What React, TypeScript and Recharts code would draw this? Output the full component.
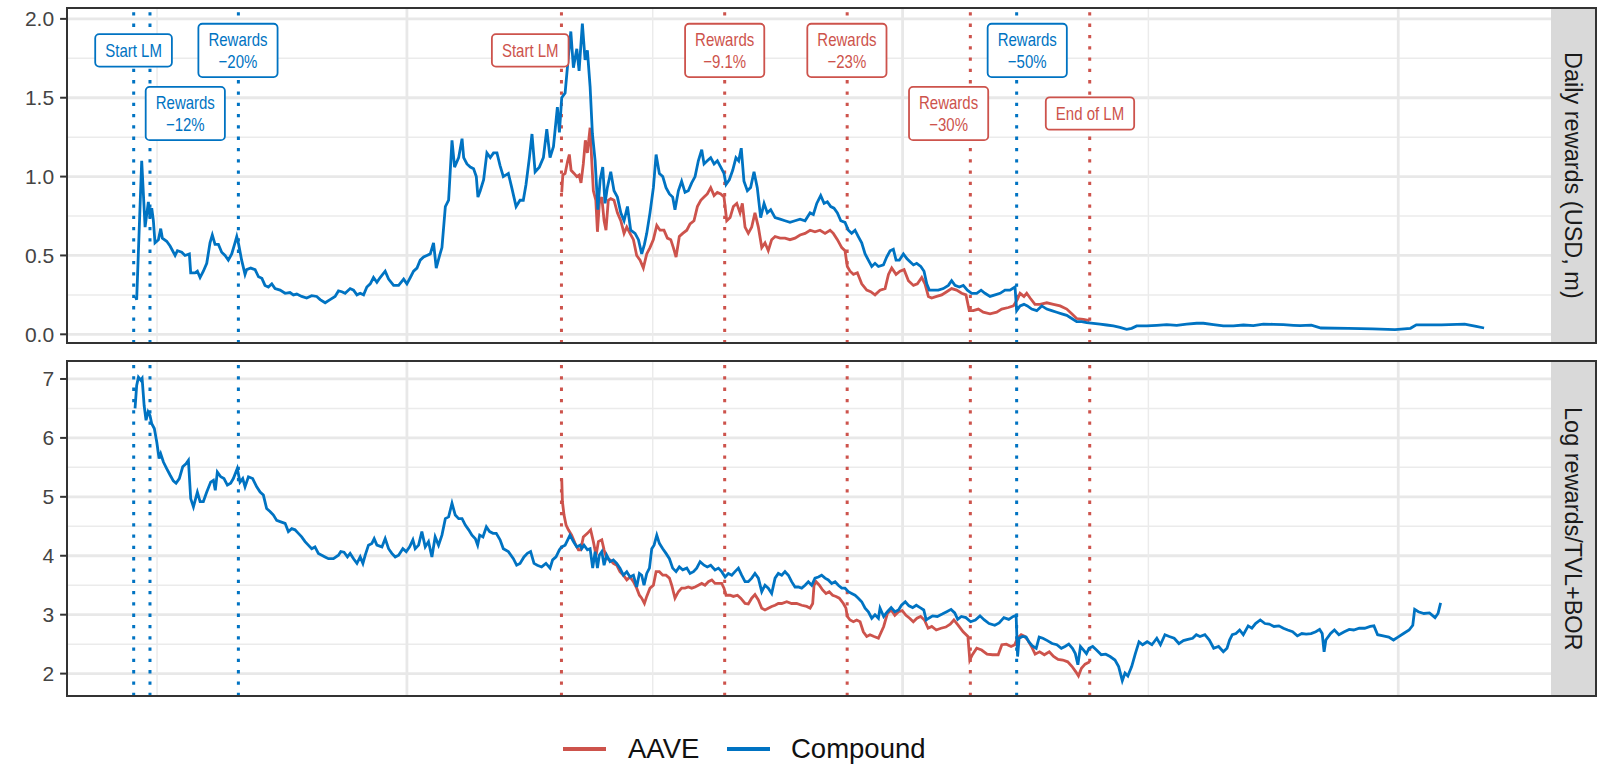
import React from "react"
import { LineChart, Line, XAxis, YAxis, ReferenceLine, ReferenceDot } from "recharts"

const AAVE = "#CD534C"
const COMP = "#0073C2"
const FONT = '"Liberation Sans", Arial, Helvetica, sans-serif'

// x is days since 1 Jul 2020
const xDomain: [number, number] = [-66.6, 1027]
const majorDays = [184, 549, 914] // 1 Jan
const minorDays = [0, 365, 730] // 1 Jul

const dailyTicks = [0, 0.5, 1, 1.5, 2]
const dailyMinor = [0.25, 0.75, 1.25, 1.75]
const logTicks = [2, 3, 4, 5, 6, 7]
const logMinor = [2.5, 3.5, 4.5, 5.5, 6.5]

const compoundEvents = [-17.2, -5.2, 59.9, 633]
const aaveEvents = [297.8, 418, 508.2, 598.9, 686.8]

const compoundLabels = [
  { day: -17.3, v: 1.8, text: ["Start LM"] },
  { day: 20.8, v: 1.4, text: ["Rewards", "\u221212%"] },
  { day: 59.6, v: 1.8, text: ["Rewards", "\u221220%"] },
  { day: 640.8, v: 1.8, text: ["Rewards", "\u221250%"] },
]
const aaveLabels = [
  { day: 274.8, v: 1.8, text: ["Start LM"] },
  { day: 418, v: 1.8, text: ["Rewards", "\u22129.1%"] },
  { day: 508, v: 1.8, text: ["Rewards", "\u221223%"] },
  { day: 582.9, v: 1.4, text: ["Rewards", "\u221230%"] },
  { day: 687, v: 1.4, text: ["End of LM"] },
]

const compoundDaily: [number, number][] = [
  [-16,0.24],[-15,0.22],[-11.3,1.10],[-8.8,0.68],[-6.4,0.84],[-5.2,0.74],[-3.9,0.80],[-2.7,0.72],[-1.5,0.58],[1,0.60],
  [2.7,0.67],[3.9,0.61],[7.1,0.59],[9.6,0.56],[13.3,0.50],[15,0.53],[18.2,0.52],[20.6,0.50],[23.8,0.51],[24.8,0.39],
  [28,0.39],[29.7,0.40],[31.7,0.36],[34.1,0.40],[36.6,0.45],[39,0.58],[40.7,0.63],[42.7,0.57],[45.2,0.57],[47.6,0.52],
  [50.1,0.50],[52.5,0.47],[55,0.51],[57.4,0.58],[58.7,0.62],[60.1,0.57],[62.3,0.47],[64.8,0.38],[66,0.41],[69,0.42],
  [72.2,0.41],[74.7,0.365],[77.2,0.355],[79.5,0.31],[82,0.30],[84.5,0.32],[86.9,0.29],[90.6,0.28],[94.3,0.26],[97.9,0.265],
  [100.4,0.25],[102.9,0.255],[106.5,0.24],[110.2,0.23],[113.9,0.245],[117.6,0.24],[120.1,0.22],[123.8,0.20],[127.4,0.22],[131.1,0.24],
  [133.6,0.275],[136.1,0.27],[138.5,0.26],[142.2,0.29],[144.7,0.28],[147.2,0.25],[149.6,0.26],[152.1,0.25],[154.5,0.30],[157,0.32],
  [159.4,0.36],[161.9,0.33],[164.3,0.36],[168,0.40],[170.5,0.35],[174.2,0.31],[177.9,0.31],[181.6,0.35],[184,0.32],[186.5,0.36],
  [188.9,0.40],[191.4,0.42],[193.8,0.47],[196.3,0.49],[198.7,0.50],[201.2,0.51],[203.6,0.58],[205.6,0.42],[208.1,0.50],[209.8,0.55],
  [212.3,0.81],[214.7,0.85],[217.2,1.23],[219.1,1.06],[222.1,1.12],[224.6,1.24],[225.8,1.12],[228.2,1.08],[230.7,1.06],[233.1,1.05],
  [235.1,1.00],[236.3,0.87],[238,0.91],[240.5,0.98],[242.9,1.15],[245.4,1.12],[247.8,1.15],[250.3,1.15],
  [252.6,1.07],[255,1.00],[258.7,1.02],[261.2,0.93],[264.4,0.81],[267.3,0.85],[269.7,0.85],[271.7,0.95],[274.2,1.12],[276.1,1.27],
  [278.4,1.03],[281.5,1.06],[284.5,1.12],[287,1.30],[289.4,1.12],[291.9,1.19],[294.8,1.44],[296.3,1.28],[298,1.50],[300.5,1.53],
  [302.9,1.76],[304.7,1.92],[306.6,1.69],[309.1,1.81],[310.8,1.67],[313.2,1.97],[315.2,1.74],[316.9,1.80],[318.9,1.57],[320.6,1.27],
  [322.6,1.10],[324.6,0.79],[326.3,0.98],[328.2,1.06],[329.9,0.83],[331.6,0.93],[334.1,1.03],[336.5,0.91],[339,0.87],[341.5,0.77],
  [343.9,0.72],[346.4,0.81],[348.8,0.66],[352,0.64],[354.5,0.60],[356.9,0.51],[358.9,0.57],[360.6,0.64],[363,0.77],[365.5,0.93],
  [367.5,1.14],[369.9,1.02],[372.4,1.00],[374.8,0.93],[377.3,0.89],[379.7,0.87],[381.4,0.79],[383.9,0.91],[386.3,0.97],[388.8,0.90],
  [391.2,0.91],[393.7,0.96],[396.2,1.00],[398.6,1.10],[401.1,1.17],[402.8,1.08],[405.2,1.10],[407.7,1.12],[410.2,1.08],[412.6,1.10],
  [415.1,1.06],[417.5,1.02],[419,0.95],[421.4,0.98],[423.9,1.04],[426.3,1.12],[428.3,1.10],[430.2,1.18],[432.2,0.97],[434.7,0.91],
  [437.1,0.93],[439.6,1.03],[442,0.93],[444.5,0.74],[447,0.83],[449.4,0.77],[451.9,0.79],[455.1,0.74],[458.8,0.73],[462.4,0.72],
  [466.1,0.71],[469.8,0.72],[473.5,0.73],[477.2,0.72],[480.9,0.77],[483.3,0.76],[485.8,0.83],[488.7,0.88],[491.2,0.83],[493.6,0.84],
  [496.1,0.81],[498.5,0.80],[501,0.77],[503.5,0.72],[506.6,0.71],[509.1,0.66],[511.5,0.64],[514,0.66],[516.4,0.62],[518.9,0.58],
  [521.4,0.51],[523.8,0.47],[526.3,0.43],[528.7,0.45],[531.2,0.43],
  [534.9,0.44],[537.3,0.49],[539.8,0.53],[542.2,0.54],[544.2,0.47],[546.6,0.47],[549.6,0.51],[552.1,0.48],[554.5,0.46],[557,0.44],
  [559.4,0.45],[562.4,0.43],[564.8,0.40],[566.8,0.32],[568.7,0.28],[571.7,0.28],[575.3,0.28],[579,0.29],[582.7,0.31],[585.1,0.34],
  [587.6,0.31],[590.8,0.30],[593.7,0.31],[596.7,0.28],[599.9,0.26],[603.6,0.26],[606.8,0.28],[609.7,0.26],[613.4,0.24],[617.1,0.25],
  [620.8,0.26],[624.4,0.28],[628.1,0.28],[631.8,0.30],[633,0.15],[635.5,0.18],[638.4,0.19],[640.9,0.18],[644.1,0.16],[647.8,0.15],
  [651.5,0.18],[655.2,0.16],[658.8,0.15],[662.5,0.14],[666.2,0.13],[669.9,0.12],[673.6,0.10],[677.2,0.08],[680.9,0.08],[684.6,0.074],
  [689.5,0.07],[694.4,0.065],[699.3,0.059],[704.2,0.053],[709.1,0.044],[714,0.032],[717.7,0.038],[721.4,0.053],[728.8,0.053],[736.1,0.057],
  [743.5,0.061],[750.9,0.057],[758.2,0.065],[765.6,0.07],[770.5,0.07],[777.9,0.061],[785.2,0.053],[792.6,0.053],[800,0.059],[807.3,0.055],
  [814.7,0.065],[822,0.063],[829.4,0.061],[836.8,0.057],[841.7,0.055],[850,0.058],[857.1,0.040],[877.3,0.038],[895,0.035],[911.6,0.030],
  [923,0.038],[927.3,0.06],[945.8,0.06],[962.9,0.065],[971.4,0.05],[977.2,0.04],
]

const aaveDaily: [number, number][] = [
  [298,0.90],[298.8,1.01],[300.5,1.02],[302.4,1.10],[303.6,1.14],[304.9,1.04],[307.1,1.02],[309.1,1.00],[310.8,1.01],[312.2,0.96],
  [313.9,1.08],[315.4,1.23],[316.9,1.15],[318.9,1.31],[320.1,1.10],[321.3,0.91],[323.1,0.85],[324.3,0.65],[325.7,0.83],[327.5,0.87],
  [329.2,0.72],[330.6,0.66],[332.3,0.85],[334.1,0.86],[336.5,0.85],[339,0.77],[341.5,0.72],[343.9,0.64],[345.9,0.68],[348.3,0.64],
  [350.8,0.60],[353.2,0.50],[355.7,0.47],[358.1,0.42],[360.6,0.51],[363,0.55],[365.5,0.60],[368,0.69],[370.4,0.66],[373.3,0.66],
  [375.8,0.61],[378.3,0.60],[380.2,0.55],[382.2,0.49],[384.6,0.62],[387.1,0.64],[390.1,0.66],[392.5,0.70],[395.4,0.72],[397.9,0.81],
  [400.4,0.85],[402.8,0.87],[405.2,0.89],[407.7,0.93],[410.2,0.88],[412.6,0.90],[415.1,0.89],[417.5,0.87],[419.5,0.72],[422,0.74],
  [424.4,0.81],[426.9,0.83],[429.3,0.77],[431,0.83],[433,0.68],[435.4,0.64],[437.9,0.68],[440.3,0.77],[442.8,0.68],[445.3,0.55],
  [447.7,0.58],[450.1,0.53],[452.6,0.60],[455.1,0.62],[458.8,0.61],[462.4,0.61],[466.1,0.60],[469.8,0.61],[473.5,0.63],[477.2,0.64],
  [480.9,0.66],[484.5,0.65],[488.2,0.66],[491.9,0.64],[495.6,0.66],[498,0.64],[501,0.60],[504.2,0.55],[506.6,0.53],[508.3,0.43],
  [510.3,0.40],[512.8,0.38],[515.7,0.39],[518.9,0.32],[522.6,0.28],[525.5,0.27],[528.7,0.25],[532.4,0.28],[536.1,0.29],[538.6,0.38],
  [541,0.42],[544.2,0.38],[547.1,0.40],[550.1,0.41],[553.3,0.34],[557,0.31],[559.9,0.32],[563.1,0.36],[565.5,0.32],[568,0.24],
  [570.4,0.23],[574.1,0.24],[577.8,0.25],[581.5,0.27],[585.1,0.29],[588.8,0.28],[592.5,0.26],[595.7,0.25],[598.1,0.15],[601.1,0.15],
  [604.8,0.16],[608.4,0.14],[613.4,0.13],[618.3,0.14],[622,0.16],[626.9,0.17],[630.6,0.18],[633.5,0.22],[635.5,0.26],[638.4,0.24],
  [640.4,0.26],[642.9,0.23],[646.5,0.19],[650.2,0.19],[655.2,0.20],[660.1,0.19],[665,0.18],[669.9,0.16],[673.6,0.13],[677.2,0.10],
  [682.2,0.095],[686.6,0.087],
]

const compoundLog: [number, number][] = [
  [-16.2,6.50],[-15,6.89],[-13.7,7.03],[-12,6.98],[-11,7.01],[-9.5,6.55],[-8.1,6.30],[-6.6,6.44],[-5.2,6.38],[-3.9,6.24],
  [-2,6.16],[-0.2,5.93],[1.5,5.65],[2.7,5.73],[4.7,5.59],[7.1,5.48],[9.6,5.37],[12,5.27],[14,5.23],[16.4,5.31],
  [18.9,5.51],[21.3,5.56],[23.1,5.62],[24.8,4.97],[26.8,4.83],[29.7,5.08],[31.7,4.92],[34.1,4.92],[36.6,5.08],[39.5,5.25],
  [41.5,5.28],[42.9,5.11],[44.4,5.42],[46.9,5.34],[49.3,5.31],[51.8,5.20],[54.2,5.23],[56.2,5.31],[59.1,5.48],[61.1,5.25],
  [63.1,5.31],[64.8,5.17],[67.3,5.34],[70.4,5.31],[73.4,5.17],[75.9,5.08],[78.3,5.03],[80.7,4.80],[83.2,4.75],[85.7,4.69],
  [88.1,4.60],[90.6,4.58],[94.3,4.55],[96.7,4.41],[99.2,4.46],[101.6,4.44],[104.1,4.38],[106.5,4.32],[109,4.24],[111.4,4.18],
  [113.9,4.12],[116.3,4.15],[118.8,4.04],[121.3,4.01],[123.7,3.98],[126.2,3.95],[129.9,3.95],[133.6,4.01],[135.3,4.07],[137.7,4.06],
  [140.2,3.98],[142.2,4.04],[144.7,3.95],[147.2,3.87],[149.6,3.98],[151.6,3.87],[153.3,4.01],[155.7,4.18],[158.2,4.21],[159.9,4.29],
  [161.9,4.18],[165.6,4.15],[168,4.29],[170.5,4.12],[172.9,4.04],[175.4,3.98],[177.9,4.01],[181,4.12],[183.5,4.07],[186,4.15],
  [188.4,4.27],[190.1,4.12],[192.6,4.18],[195,4.41],[197.5,4.15],[199.9,4.24],[202.4,3.98],[204.8,4.32],[207.3,4.18],[209.8,4.35],
  [212.3,4.63],[214.7,4.66],[217.2,4.89],[219.6,4.69],[222.1,4.63],[224.6,4.63],[227,4.52],[229.5,4.44],[231.9,4.35],[234.4,4.29],
  [236.1,4.18],[237.6,4.35],[240,4.32],[242.5,4.49],[244.9,4.41],[247.4,4.38],[249.8,4.38],
  [252.6,4.27],[255,4.12],[258.7,4.07],[262.4,3.95],[264.8,3.84],[267.3,3.87],[270.2,3.98],[272.7,4.04],[275.1,4.07],[277.6,3.87],
  [280,3.84],[283.2,3.81],[286.4,3.87],[289.4,3.79],[291.3,3.93],[293.8,3.98],[296.3,4.10],[298,4.15],[300.5,4.18],[304.1,4.35],
  [306.6,4.24],[309.1,4.15],[311.5,4.18],[312.7,4.12],[314.4,4.18],[316.9,4.10],[318.9,4.12],[320.8,3.79],[322.6,4.07],[324.3,3.79],
  [325.7,4.01],[327.5,4.07],[329.2,3.84],[331.1,4.01],[333.6,3.90],[336,3.93],[338.5,3.87],[340.9,3.79],[343.4,3.67],[345.9,3.73],
  [348.3,3.64],[350.8,3.67],[353.2,3.47],[355.2,3.70],[356.9,3.67],[358.6,3.50],[360.6,3.70],[362.6,3.79],[364.3,4.12],[366,4.18],
  [368,4.35],[369.9,4.21],[372.4,4.12],[374.8,4.04],[377.3,3.95],[379.7,3.79],[382.2,3.73],[384.6,3.81],[387.1,3.76],[390.1,3.79],
  [392.5,3.70],[395,3.73],[397.4,3.79],[399.9,3.90],[402.8,3.84],[405.2,3.81],[407.7,3.84],[410.9,3.76],[413.4,3.79],[415.8,3.73],
  [418.3,3.64],[420.7,3.70],[423.2,3.67],[425.6,3.73],[428.1,3.79],[430.5,3.67],[433,3.56],[435.4,3.56],[437.9,3.62],[440.3,3.70],
  [442.8,3.62],[445.3,3.39],[447.7,3.50],[450.1,3.45],[452.6,3.36],[455.1,3.62],[457.5,3.70],[460,3.67],[462.4,3.73],[464.9,3.67],
  [467.3,3.56],[469.8,3.47],[472.2,3.47],[474.7,3.45],[477.2,3.50],[479.6,3.56],[482.1,3.50],[484.5,3.62],[487,3.64],[489.4,3.67],
  [491.9,3.62],[494.3,3.59],[496.8,3.53],[499.3,3.56],[501.7,3.50],[504.2,3.45],[506.6,3.45],[509.1,3.39],[511.5,3.36],[514,3.33],
  [516.4,3.28],[518.9,3.22],[521.4,3.11],[523.8,3.05],[526.3,2.94],[528.7,3.00],[531.2,2.94],
  [532.4,3.11],[535.1,2.97],[537.8,3.05],[540.6,3.12],[543.3,3.05],[546,3.08],[548.2,3.16],[551,3.22],[553.7,3.15],[556.4,3.12],
  [559.1,3.16],[561.9,3.12],[564.6,3.08],[566.4,2.91],[568.3,2.94],[571.1,2.98],[574.6,2.97],[578.2,3.01],[581.5,3.05],[584.7,3.09],
  [587.4,3.03],[589.6,2.92],[592.3,2.97],[595.6,2.95],[599.1,2.88],[602.6,2.91],[606,2.98],[609.2,2.91],[612.7,2.85],[616.9,2.82],
  [620.1,2.86],[623.6,2.95],[627.2,2.92],[630.5,2.97],[632.6,2.99],[633.7,2.29],[634.8,2.60],[637.3,2.63],[640,2.62],[641.9,2.54],
  [644.6,2.47],[647.4,2.43],[649.6,2.62],[652.3,2.60],[655.6,2.56],[659.1,2.51],[662.6,2.49],[665.9,2.43],[668.6,2.46],[671.4,2.50],
  [674.1,2.43],[676.2,2.34],[678.1,2.15],[680,2.46],[682.3,2.40],[684.4,2.34],[686.3,2.43],[689,2.46],[691.8,2.40],[695.3,2.32],
  [698.6,2.33],[701.8,2.29],[705.4,2.23],[708.1,2.12],[710.8,1.88],[712.8,2.01],[714.9,1.96],[717.7,2.12],[720.4,2.34],[723.1,2.54],
  [725.8,2.49],[729.1,2.54],[732.6,2.49],[736.2,2.60],[738.9,2.49],[742.2,2.66],[745.4,2.63],[749,2.60],[752.5,2.51],[755.8,2.56],
  [759.1,2.58],[762.6,2.60],[765.3,2.66],[768,2.63],[771.6,2.66],[774.9,2.57],[778.1,2.43],[781.7,2.46],[785.2,2.37],[787.9,2.43],
  [789.8,2.57],[791.8,2.66],[794.5,2.68],[797.2,2.74],[799.9,2.66],[803.5,2.81],[806.2,2.77],[808.9,2.85],[812.4,2.91],[815.8,2.85],
  [819,2.84],[822.5,2.80],[826.1,2.81],[829.4,2.77],[832.6,2.74],[836.2,2.71],[839.7,2.64],[843,2.68],[846.2,2.67],[849.8,2.68],
  [853.3,2.71],[856.1,2.75],[858,2.68],[859.4,2.37],[860.7,2.57],[864.2,2.68],[867,2.74],[870.3,2.66],[874.3,2.71],[877.9,2.75],
  [881.2,2.74],[885.3,2.77],[889.3,2.77],[893.4,2.80],[896.1,2.81],[898.8,2.66],[902.9,2.64],[907,2.62],[910.5,2.57],[913.8,2.62],
  [917.9,2.68],[922,2.74],[924.7,2.82],[926.1,3.09],[928.8,3.05],[932.9,3.02],[937,3.03],[941.1,2.95],[943.3,3.02],[945.2,3.20],
]

const aaveLog: [number, number][] = [
  [298,5.31],[298.5,4.92],[299.7,4.69],[301.2,4.52],[302.9,4.44],[305.3,4.35],[307.8,4.21],[310.3,4.10],[312,4.10],[313.9,4.32],
  [316.9,4.38],[319.3,4.44],[321.3,4.24],[323.3,4.01],[325,4.24],[327.5,4.27],[329.2,4.10],[331.1,3.95],[333.6,3.93],[336,3.87],
  [338.5,3.84],[340.9,3.73],[343.4,3.67],[345.9,3.59],[348.3,3.64],[350.8,3.56],[353.2,3.45],[355.2,3.33],[356.9,3.28],[358.9,3.19],
  [360.6,3.31],[363,3.45],[365.5,3.50],[367.5,3.73],[369.9,3.73],[372.4,3.67],[374.8,3.67],[377.3,3.62],[379,3.50],[381.4,3.28],
  [383.9,3.39],[386.3,3.45],[388.8,3.45],[391.2,3.47],[393.7,3.45],[396.2,3.47],[398.6,3.50],[401.1,3.53],[403.5,3.50],[406,3.56],
  [408.5,3.59],[410.9,3.53],[413.4,3.53],[415.8,3.53],[417.5,3.45],[419,3.33],[422,3.33],[424.4,3.31],[427.4,3.33],[429.8,3.28],
  [433,3.19],[435.4,3.18],[437.9,3.28],[440.3,3.34],[442.8,3.25],[445.3,3.11],[447.7,3.08],[450.1,3.11],[452.6,3.14],[455.1,3.16],
  [457.5,3.19],[460,3.19],[463.7,3.22],[467.3,3.19],[471,3.19],[474.7,3.16],[478.4,3.14],[480.9,3.11],[482.8,3.19],[483.8,3.50],
  [485.3,3.56],[487.7,3.50],[490.1,3.42],[492.6,3.36],[495,3.39],[497.5,3.33],[500,3.31],[502.4,3.28],[505.4,3.19],[507.3,3.11],
  [508.3,2.97],[510.3,2.91],[512.8,2.88],[515.2,2.91],[517.7,2.88],[520.1,2.71],[522.6,2.63],[525,2.66],[528,2.63],[531.2,2.60],
  [535.1,2.80],[537.8,3.02],[540.6,3.08],[543.3,2.99],[546,3.05],[548.7,3.07],[551.5,2.99],[554.2,2.94],[556.9,2.88],[559.6,2.94],
  [562.3,2.97],[565.1,2.91],[567.8,2.77],[570.5,2.80],[573.8,2.74],[577.3,2.77],[580.8,2.79],[584.1,2.84],[586.8,2.91],[590,2.82],
  [593.6,2.71],[597.1,2.63],[598.5,2.23],[600.4,2.32],[603.6,2.43],[607.2,2.40],[611.2,2.33],[615.3,2.32],[619.4,2.32],[622.1,2.49],
  [625.4,2.50],[628.9,2.46],[631.6,2.49],[633.5,2.60],[636.3,2.66],[639,2.63],[641.2,2.57],[643.9,2.46],[646.6,2.33],[649.9,2.37],
  [653.4,2.32],[657,2.37],[660.2,2.29],[663.5,2.24],[667,2.23],[670.6,2.20],[673.8,2.12],[676.6,2.03],[678.5,1.96],[680.7,2.09],
  [683.4,2.16],[686.9,2.20],
]

const toRows = (pairs: [number, number][]) => pairs.map(([day, v]) => ({ day, v }))

let measureCtx: CanvasRenderingContext2D | null = null
function textWidth(s: string) {
  if (!measureCtx) measureCtx = document.createElement("canvas").getContext("2d")
  if (!measureCtx) return s.length * 8
  measureCtx.font = `15px ${FONT}`
  return measureCtx.measureText(s).width
}

function Tag({ cx, cy, text, color }: { cx: number; cy: number; text: string[]; color: string }) {
  const w = Math.max(...text.map(textWidth)) + 20
  const h = text.length === 1 ? 32.4 : 53.3
  const base = text.length === 1 ? [6.8] : [-4.2, 17.5]
  return (
    <g>
      <rect x={cx - w / 2} y={cy - h / 2} width={w} height={h} rx={4} fill="#fff" stroke={color} strokeWidth={1.8} />
      {text.map((t, i) => (
        <text key={i} transform={`translate(${cx},${cy + base[i]}) scale(1,1.22)`} textAnchor="middle"
          fontSize={15} fontFamily={FONT} fill={color}>{t}</text>
      ))}
    </g>
  )
}

interface PanelProps {
  top: number
  margin: { top: number; bottom: number }
  domain: [number, number]
  ticks: number[]
  minor: number[]
  fmt?: (v: number) => string
  comp: [number, number][]
  aave: [number, number][]
  strip: string
  labels?: boolean
}

function Panel({ top, margin, domain, ticks, minor, fmt, comp, aave, strip, labels }: PanelProps) {
  const H = 352
  const plotTop = top + margin.top
  const plotH = H - margin.top - margin.bottom
  return (
    <>
      <div style={{ position: "absolute", left: 0, top, width: 1607, height: H }}>
        <LineChart width={1607} height={H} margin={{ top: margin.top, right: 55.3, bottom: margin.bottom, left: 0 }}>
          <XAxis type="number" dataKey="day" domain={xDomain} allowDataOverflow hide />
          <YAxis type="number" domain={domain} ticks={ticks} interval={0} allowDataOverflow width={66.6}
            tickSize={6.5} tickMargin={6} axisLine={false}
            tickLine={{ stroke: "#333", strokeWidth: 2 }}
            tick={{ fontSize: 21, fill: "#444", fontFamily: FONT }}
            tickFormatter={fmt} />
          {minor.map(v => <ReferenceLine key={"hm" + v} y={v} stroke="#EBEBEB" strokeWidth={1.5} />)}
          {ticks.map(v => <ReferenceLine key={"hM" + v} y={v} stroke="#E8E8E8" strokeWidth={2.8} />)}
          {minorDays.map(d => <ReferenceLine key={"vm" + d} x={d} stroke="#EBEBEB" strokeWidth={1.5} />)}
          {majorDays.map(d => <ReferenceLine key={"vM" + d} x={d} stroke="#E8E8E8" strokeWidth={2.8} />)}
          {compoundEvents.map(d => <ReferenceLine key={"ce" + d} x={d} stroke={COMP} strokeWidth={3} strokeDasharray="3.3 8" />)}
          {aaveEvents.map(d => <ReferenceLine key={"ae" + d} x={d} stroke={AAVE} strokeWidth={3} strokeDasharray="3.3 8" />)}
          <Line data={toRows(aave)} dataKey="v" type="linear" stroke={AAVE} strokeWidth={2.8} dot={false} isAnimationActive={false} />
          <Line data={toRows(comp)} dataKey="v" type="linear" stroke={COMP} strokeWidth={2.8} dot={false} isAnimationActive={false} />
          {labels && compoundLabels.map((l, i) => (
            <ReferenceDot key={"cl" + i} x={l.day} y={l.v} r={1}
              shape={(p: any) => <Tag cx={p.cx} cy={p.cy} text={l.text} color={COMP} />} />
          ))}
          {labels && aaveLabels.map((l, i) => (
            <ReferenceDot key={"al" + i} x={l.day} y={l.v} r={1}
              shape={(p: any) => <Tag cx={p.cx} cy={p.cy} text={l.text} color={AAVE} />} />
          ))}
        </LineChart>
      </div>
      <div style={{ position: "absolute", left: 65.6, top: plotTop - 1, width: 1551.7 - 65.6 + 1, height: plotH + 2,
        border: "2px solid #333", boxSizing: "border-box", pointerEvents: "none" }} />
      <div style={{ position: "absolute", left: 1550.7, top: plotTop - 1, width: 46.3, height: plotH + 2,
        border: "2px solid #333", borderLeft: "none", boxSizing: "border-box", background: "#D9D9D9",
        display: "flex", alignItems: "center", justifyContent: "center" }}>
        <span style={{ writingMode: "vertical-rl", fontSize: 23.5, color: "#1A1A1A", fontFamily: FONT, whiteSpace: "nowrap" }}>{strip}</span>
      </div>
    </>
  )
}

export default function App() {
  return (
    <div style={{ position: "absolute", left: 0, top: 0, width: 1607, height: 764, background: "#fff", fontFamily: FONT }}>
      <Panel top={0} margin={{ top: 8.3, bottom: 8.7 }} domain={[-0.057, 2.067]} ticks={dailyTicks} minor={dailyMinor}
        fmt={(v: number) => v.toFixed(1)} comp={compoundDaily} aave={aaveDaily} strip="Daily rewards (USD, m)" labels />
      <Panel top={352} margin={{ top: 8.7, bottom: 8 }} domain={[1.62, 7.31]} ticks={logTicks} minor={logMinor}
        comp={compoundLog} aave={aaveLog} strip="Log rewards/TVL+BOR" />
      <div style={{ position: "absolute", top: 732, left: 0, width: 1607, height: 34 }}>
        <div style={{ position: "absolute", left: 563, top: 15, width: 43, height: 4, background: AAVE }} />
        <span style={{ position: "absolute", left: 628, top: 0, fontSize: 27.5, lineHeight: "34px", color: "#111" }}>AAVE</span>
        <div style={{ position: "absolute", left: 726.6, top: 15, width: 43, height: 4, background: COMP }} />
        <span style={{ position: "absolute", left: 791, top: 0, fontSize: 27.5, lineHeight: "34px", color: "#111" }}>Compound</span>
      </div>
    </div>
  )
}
